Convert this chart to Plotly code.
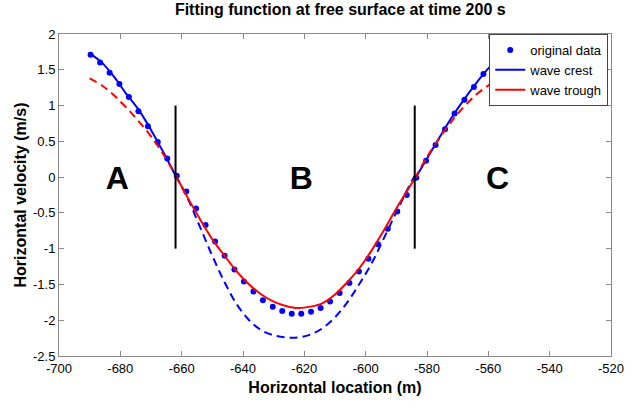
import plotly.graph_objects as go

# original data points
data_x = [-689.7, -686.6, -683.5, -680.3, -677.2, -674.1, -671.0, -667.8, -664.7, -661.6,
          -658.5, -655.3, -652.2, -649.1, -646.0, -642.8, -639.7, -636.6, -633.5, -630.3,
          -627.2, -624.1, -621.0, -617.8, -614.7, -611.6, -608.5, -605.3, -602.2, -599.1,
          -596.0, -592.8, -589.7, -586.6, -583.5, -580.3, -577.2, -574.1, -571.0, -567.8,
          -564.7, -561.6, -558.5, -555.3, -552.2]
data_y = [1.71, 1.60, 1.46, 1.30, 1.12, 0.92, 0.71, 0.49, 0.26, 0.02,
          -0.20, -0.44, -0.67, -0.90, -1.10, -1.29, -1.46, -1.60, -1.72, -1.81,
          -1.87, -1.91, -1.91, -1.88, -1.83, -1.74, -1.62, -1.48, -1.32, -1.14,
          -0.94, -0.72, -0.48, -0.25, -0.01, 0.23, 0.45, 0.67, 0.89, 1.08,
          1.26, 1.44, 1.58, 1.70, 1.79]

# wave crest fit: solid in A and C, dashed in B
crest_a_x = [-690, -686, -682, -678, -674, -670, -666, -662]
crest_a_y = [1.73, 1.60, 1.40, 1.16, 0.94, 0.66, 0.35, 0.02]
crest_b_x = [-662, -658, -654, -650, -646, -642, -638, -634, -630, -626, -622,
             -618, -614, -610, -606, -602, -598, -594, -590, -586, -584]
crest_b_y = [0.02, -0.30, -0.70, -1.10, -1.47, -1.78, -2.00, -2.14, -2.21, -2.24, -2.24,
             -2.20, -2.11, -1.96, -1.75, -1.49, -1.20, -0.85, -0.49, -0.14, 0.02]
crest_c_x = [-584, -580, -576, -572, -568, -564, -560, -556, -552, -550]
crest_c_y = [-0.03, 0.26, 0.55, 0.83, 1.08, 1.31, 1.52, 1.68, 1.81, 1.88]

# wave trough fit: dashed in A and C, solid in B
trough_a_x = [-690, -686, -682, -678, -674, -670, -666, -662]
trough_a_y = [1.38, 1.28, 1.14, 0.97, 0.78, 0.57, 0.32, 0.03]
trough_b_x = [-662, -658, -654, -650, -646, -642, -638, -634, -630, -626, -622,
              -618, -614, -610, -606, -602, -598, -594, -590, -586, -584]
trough_b_y = [0.03, -0.29, -0.59, -0.87, -1.10, -1.32, -1.50, -1.64, -1.74, -1.80, -1.83,
              -1.81, -1.76, -1.64, -1.47, -1.27, -1.02, -0.74, -0.44, -0.16, -0.02]
trough_c_x = [-584, -580, -576, -572, -568, -564, -560, -556, -552, -550]
trough_c_y = [-0.02, 0.28, 0.54, 0.78, 0.98, 1.15, 1.28, 1.39, 1.46, 1.49]

# region boundaries and labels
boundary_x = [-662, -584]
boundary_y = [-1, 1]
region_labels = ["A", "B", "C"]
region_x = [-681, -621, -557]
region_y = [-0.05, -0.05, -0.05]

x_ticks = [-700, -680, -660, -640, -620, -600, -580, -560, -540, -520]
y_ticks = [-2.5, -2, -1.5, -1, -0.5, 0, 0.5, 1, 1.5, 2]
y_ticktext = ["-2.5", "-2", "-1.5", "-1", "-0.5", "0", "0.5", "1", "1.5", "2"]

BLUE = "#0000ff"
RED = "#ff0000"
DASH = "8px,5px"
FONT = "Liberation Sans Narrow, Arial Narrow, Liberation Sans, Arial, sans-serif"

fig = go.Figure()

fig.add_trace(go.Scatter(x=data_x, y=data_y, mode="markers", name="original data",
                         marker=dict(color=BLUE, size=6), legendrank=1))
fig.add_trace(go.Scatter(x=crest_a_x, y=crest_a_y, mode="lines", name="wave crest",
                         line=dict(color=BLUE, width=2, shape="spline"), legendrank=2))
fig.add_trace(go.Scatter(x=crest_b_x, y=crest_b_y, mode="lines", showlegend=False,
                         line=dict(color=BLUE, width=2, dash=DASH, shape="spline")))
fig.add_trace(go.Scatter(x=crest_c_x, y=crest_c_y, mode="lines", showlegend=False,
                         line=dict(color=BLUE, width=2, shape="spline")))
fig.add_trace(go.Scatter(x=trough_a_x, y=trough_a_y, mode="lines", showlegend=False,
                         line=dict(color=RED, width=2, dash=DASH, shape="spline")))
fig.add_trace(go.Scatter(x=trough_b_x, y=trough_b_y, mode="lines", name="wave trough",
                         line=dict(color=RED, width=2, shape="spline"), legendrank=3))
fig.add_trace(go.Scatter(x=trough_c_x, y=trough_c_y, mode="lines", showlegend=False,
                         line=dict(color=RED, width=2, dash=DASH, shape="spline")))

for bx in boundary_x:
    fig.add_trace(go.Scatter(x=[bx, bx], y=boundary_y, mode="lines", showlegend=False,
                             line=dict(color="black", width=2)))

fig.add_trace(go.Scatter(x=region_x, y=region_y, mode="text", text=region_labels,
                         showlegend=False,
                         textfont=dict(family="Liberation Sans, Arial", size=32, color="black",
                                       weight="bold")))

axis_common = dict(showline=True, linecolor="#8a8a8a", linewidth=1, mirror="allticks",
                   ticks="inside", ticklen=5, tickcolor="#8a8a8a", showgrid=False,
                   zeroline=False, tickfont=dict(family=FONT, size=13, color="black"))

fig.update_xaxes(range=[-700, -520], tickvals=x_ticks, ticktext=[str(v) for v in x_ticks],
                 title=dict(text="<b>Horizontal location (m)</b>", standoff=7,
                            font=dict(family=FONT, size=16, color="black")),
                 **axis_common)
fig.update_yaxes(range=[-2.5, 2], tickvals=y_ticks, ticktext=y_ticktext,
                 title=dict(text="<b>Horizontal velocity (m/s)</b>", standoff=2,
                            font=dict(family=FONT, size=16, color="black")),
                 **axis_common)

fig.update_layout(
    width=636, height=407,
    margin=dict(l=59, r=14, t=34, b=51),
    plot_bgcolor="white", paper_bgcolor="white",
    title=dict(text="<b>Fitting function at free surface at time 200 s</b>",
               x=0.535, xanchor="center", y=0.99, yanchor="top",
               font=dict(family=FONT, size=16, color="black")),
    legend=dict(x=0.995, y=1, xanchor="right", yanchor="top", bgcolor="white",
                bordercolor="#444", borderwidth=1, itemwidth=30,
                font=dict(family=FONT, size=13, color="black"),
                tracegroupgap=0),
)

# drop the default body margin so the figure fills the window exactly
fig.write_html("out.html", config={"displayModeBar": False},
               post_script="document.body.style.margin = '0px';")
